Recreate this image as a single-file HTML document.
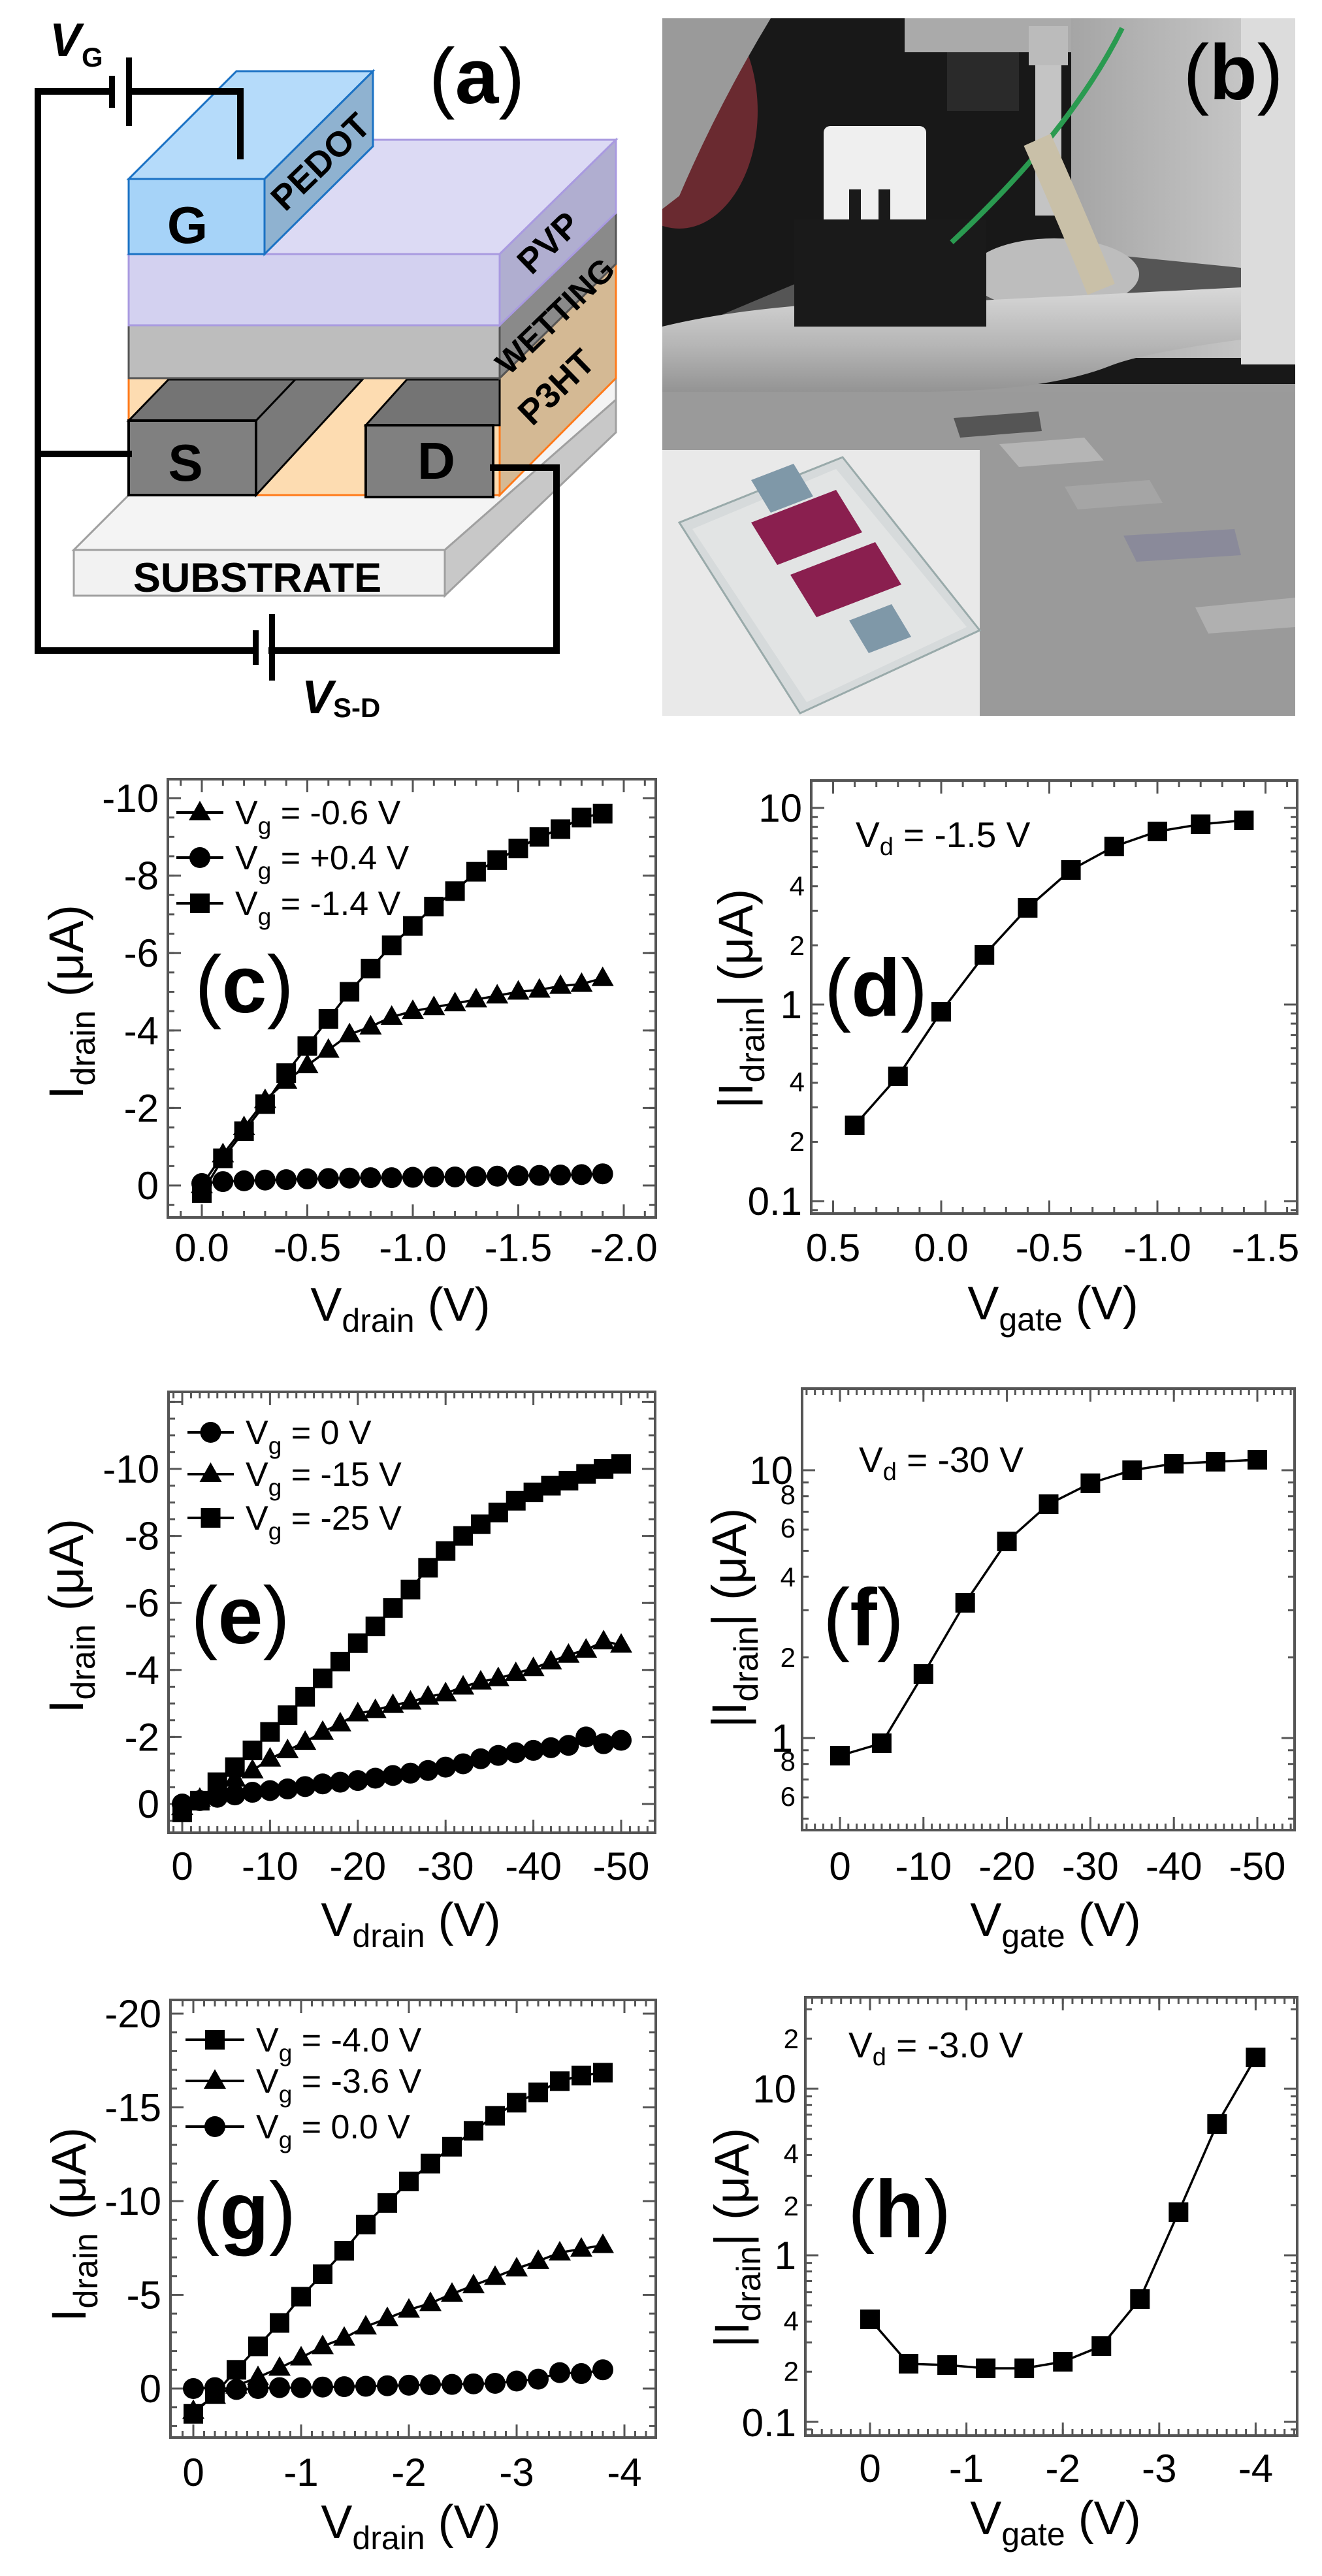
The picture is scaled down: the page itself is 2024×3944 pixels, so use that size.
<!DOCTYPE html>
<html><head><meta charset="utf-8"><style>
html,body{margin:0;padding:0;background:#fff}
svg{display:block}
text{font-family:"Liberation Sans",Arial,sans-serif}
</style></head><body>
<svg id="s" xmlns="http://www.w3.org/2000/svg" width="2024" height="3944" viewBox="0 0 2024 3944">
<rect width="2024" height="3944" fill="#fff"/>
<!-- Panel (a) -->
<g id="pa">
  <!-- substrate -->
  <polygon points="113,842 681,842 943,612 943,560 197,560 197,758" fill="#f4f4f4" stroke="#a0a0a0" stroke-width="3"/>
  <polygon points="681,842 943,612 943,662 681,912" fill="#c8c8c8" stroke="#a0a0a0" stroke-width="3"/>
  <rect x="113" y="842" width="568" height="70" fill="#f2f2f2" stroke="#a0a0a0" stroke-width="3"/>
  <!-- P3HT -->
  <rect x="197" y="579" width="568" height="179" fill="#fddcb1" stroke="#ff7a1a" stroke-width="3"/>
  <polygon points="765,579 943,404 943,579 765,758" fill="#d4b994" stroke="#ff7a1a" stroke-width="3"/>
  <!-- S electrode -->
  <polygon points="392,644 452,581 555,581 392,758" fill="#7a7a7a" stroke="#000" stroke-width="3"/>
  <polygon points="197,644 392,644 452,581 258,581" fill="#747474" stroke="#000" stroke-width="3"/>
  <rect x="197" y="644" width="195" height="114" fill="#808080" stroke="#000" stroke-width="4"/>
  <!-- D electrode -->
  <polygon points="560,651 623,581 765,581 765,651" fill="#747474" stroke="#000" stroke-width="3"/>
  <rect x="560" y="651" width="195" height="110" fill="#808080" stroke="#000" stroke-width="4"/>
  <!-- wetting -->
  <rect x="197" y="498" width="568" height="81" fill="#bdbdbd" stroke="#555" stroke-width="3"/>
  <polygon points="765,498 943,326 943,404 765,579" fill="#8a8a8a" stroke="#555" stroke-width="3"/>
  <!-- PVP -->
  <polygon points="197,389 765,389 943,214 375,214" fill="#dcdaf4" stroke="#a99ae0" stroke-width="3"/>
  <rect x="197" y="389" width="568" height="109" fill="#d3d1f0" stroke="#a99ae0" stroke-width="3"/>
  <polygon points="765,389 943,214 943,326 765,498" fill="#b0aed0" stroke="#a99ae0" stroke-width="3"/>
  <!-- G -->
  <polygon points="197,274 405,274 571,109 362,109" fill="#b5dbfa" stroke="#1b72c4" stroke-width="3"/>
  <polygon points="405,274 571,109 571,224 405,389" fill="#8fb2d0" stroke="#1b72c4" stroke-width="3"/>
  <rect x="197" y="274" width="208" height="115" fill="#a6d3f8" stroke="#1b72c4" stroke-width="3"/>
  <!-- labels -->
  <text x="287" y="372" font-size="80" font-weight="bold" text-anchor="middle">G</text>
  <text x="284" y="736" font-size="80" font-weight="bold" text-anchor="middle">S</text>
  <text x="668" y="733" font-size="80" font-weight="bold" text-anchor="middle">D</text>
  <text x="394" y="906" font-size="63" font-weight="bold" text-anchor="middle">SUBSTRATE</text>
  <text transform="translate(491,248) rotate(-44)" font-size="54" font-weight="bold" text-anchor="middle" dy="18">PEDOT</text>
  <text transform="translate(840,372) rotate(-44)" font-size="54" font-weight="bold" text-anchor="middle" dy="18">PVP</text>
  <text transform="translate(850,484) rotate(-44)" font-size="50" font-weight="bold" text-anchor="middle" dy="17">WETTING</text>
  <text transform="translate(852,593) rotate(-44)" font-size="54" font-weight="bold" text-anchor="middle" dy="18">P3HT</text>
  <!-- circuit -->
  <g stroke="#000" stroke-width="10" fill="none" stroke-linecap="square">
    <path d="M58,140 V996 H391"/>
    <path d="M58,695 H197"/>
    <path d="M58,140 H171"/>
    <path d="M201,140 H368 V239"/>
    <path d="M416,996 H852 V716 H755"/>
  </g>
  <rect x="167" y="116" width="9" height="49" fill="#000"/>
  <rect x="193" y="88" width="9" height="105" fill="#000"/>
  <rect x="387" y="965" width="9" height="53" fill="#000"/>
  <rect x="412" y="940" width="9" height="102" fill="#000"/>
  <text x="76" y="86" font-size="72" font-weight="bold" font-style="italic">V</text>
  <text x="125" y="102" font-size="42" font-weight="bold">G</text>
  <text x="462" y="1092" font-size="72" font-weight="bold" font-style="italic">V</text>
  <text x="510" y="1098" font-size="42" font-weight="bold">S-D</text>
  <text x="730" y="158" font-size="120" text-anchor="middle">(<tspan font-weight="bold">a</tspan>)</text>
</g>
<!-- Panel (b) photo -->
<defs>
  <clipPath id="pc"><rect x="1014" y="28" width="969" height="1068"/></clipPath>
  <linearGradient id="ring" x1="0" y1="0" x2="0" y2="1"><stop offset="0" stop-color="#d8d8d8"/><stop offset="0.5" stop-color="#b5b5b5"/><stop offset="1" stop-color="#8a8a8a"/></linearGradient>
  <linearGradient id="plate" x1="0" y1="0" x2="0" y2="1"><stop offset="0" stop-color="#8c8c8c"/><stop offset="1" stop-color="#a8a8a8"/></linearGradient>
  <linearGradient id="panel" x1="0" y1="0" x2="1" y2="0"><stop offset="0" stop-color="#a5a5a5"/><stop offset="1" stop-color="#cfcfcf"/></linearGradient>
</defs>
<g clip-path="url(#pc)">
  <rect x="1014" y="28" width="969" height="1068" fill="url(#plate)"/>
  <rect x="1014" y="28" width="969" height="560" fill="#181818"/>
  <ellipse cx="1040" cy="170" rx="120" ry="180" fill="#6a2a30"/>
  <path d="M1014,28 H1180 Q1100,160 1040,300 L1014,320 Z" fill="#9a9a9a"/>
  <rect x="1385" y="28" width="270" height="52" fill="#aaa"/>
  <rect x="1450" y="80" width="110" height="90" fill="#2a2a2a"/>
  <rect x="1575" y="40" width="60" height="60" fill="#bbb"/>
  <rect x="1585" y="100" width="40" height="230" fill="#c4c4c4"/>
  <rect x="1640" y="28" width="343" height="520" fill="url(#panel)"/>
  <rect x="1900" y="28" width="83" height="530" fill="#dcdcdc"/>
  <polygon points="1014,520 1300,400 1700,390 1900,410 1900,470 1014,560" fill="#555"/>
  <ellipse cx="1614" cy="420" rx="130" ry="55" fill="#bdbdbd"/>
  <path d="M1014,500 Q1200,455 1500,460 L1900,440 L1900,520 Q1750,540 1700,560 Q1600,600 1400,600 Q1200,605 1014,620 Z" fill="url(#ring)"/>
  <rect x="1261" y="193" width="157" height="210" rx="10" fill="#efefef"/>
  <rect x="1216" y="336" width="294" height="164" fill="#1a1a1a"/>
  <rect x="1300" y="290" width="18" height="120" fill="#1a1a1a"/>
  <rect x="1345" y="290" width="18" height="120" fill="#1a1a1a"/>
  <path d="M1718,43 Q1640,200 1457,371" stroke="#2a9a50" stroke-width="8" fill="none"/>
  <path d="M1588,214 Q1640,330 1686,443" stroke="#c9c0a8" stroke-width="45" fill="none"/>
  <rect x="1014" y="600" width="969" height="496" fill="#9a9a9a"/>
  <polygon points="1460,640 1590,630 1595,660 1470,670" fill="#555"/>
  <polygon points="1530,680 1660,670 1690,705 1560,715" fill="#b5b5b5"/>
  <polygon points="1630,745 1760,735 1780,770 1650,780" fill="#a5a5a5"/>
  <polygon points="1720,820 1890,810 1900,850 1740,860" fill="#8a8a9a"/>
  <polygon points="1830,930 1983,915 1983,960 1850,970" fill="#b0b0b0"/>
  <rect x="1014" y="689" width="486" height="407" fill="#e9e9e9"/>
  <polygon points="1040,800 1290,700 1500,965 1225,1092" fill="#d6dadb" stroke="#9aa" stroke-width="3"/>
  <polygon points="1060,810 1280,718 1480,960 1235,1075" fill="#e2e4e4"/>
  <polygon points="1150,735 1215,710 1245,760 1180,785" fill="#7f98a8"/>
  <polygon points="1150,800 1280,750 1320,815 1190,865" fill="#8a1f4f"/>
  <polygon points="1210,880 1340,830 1380,895 1250,945" fill="#8a1f4f"/>
  <polygon points="1300,950 1365,925 1395,975 1330,1000" fill="#7f98a8"/>
</g>
<text x="1888" y="152" font-size="120" text-anchor="middle">(<tspan font-weight="bold">b</tspan>)</text>
<g id="plots"></g>
</svg>
<script>
const NS='http://www.w3.org/2000/svg';
const G=document.getElementById('plots');
function el(tag,a,p){const e=document.createElementNS(NS,tag);for(const k in a)e.setAttribute(k,a[k]);(p||G).appendChild(e);return e;}
function txt(x,y,s,size,anchor,extra){const t=el('text',Object.assign({x:x,y:y,'font-size':size,'text-anchor':anchor||'middle'},extra||{}));t.textContent=s;return t;}
function frame(c){
  const {x0,y0,x1,y1}=c;
  const tk=(x1a,y1a,x2a,y2a)=>el('line',{x1:x1a,y1:y1a,x2:x2a,y2:y2a,stroke:'#555','stroke-width':3});
  (c.xmin||[]).forEach(p=>{if(p>x0+2&&p<x1-2){tk(p,y1,p,y1-10);tk(p,y0,p,y0+10);}});
  (c.xmaj||[]).forEach(p=>{if(p>x0+2&&p<x1-2){tk(p,y1,p,y1-20);tk(p,y0,p,y0+20);}});
  (c.ymin||[]).forEach(p=>{if(p>y0+2&&p<y1-2){tk(x0,p,x0+10,p);tk(x1,p,x1-10,p);}});
  (c.ymaj||[]).forEach(p=>{if(p>y0+2&&p<y1-2){tk(x0,p,x0+20,p);tk(x1,p,x1-20,p);}});
  el('rect',{x:x0,y:y0,width:x1-x0,height:y1-y0,fill:'none',stroke:'#555','stroke-width':4});
  (c.xlab||[]).forEach(([p,s])=>txt(p,c.xly+21,s,60));
  (c.ylab||[]).forEach(([p,s,sz])=>txt(x0-(sz?10:14),p+(sz?14:21),s,sz||60,'end'));
}
function title(x,y,main,sub,tail){
  const t=el('text',{x:x,y:y,'font-size':72,'text-anchor':'middle'});
  t.appendChild(document.createTextNode(main));
  const s=el('tspan',{'font-size':50,dy:17},t);s.textContent=sub;
  const r=el('tspan',{dy:-17},t);r.textContent=tail;
}
function ytitle(x,y,main,sub,tail){
  const t=el('text',{transform:`translate(${x},${y}) rotate(-90)`,x:0,y:24,'font-size':74,'text-anchor':'middle'});
  t.appendChild(document.createTextNode(main));
  const s=el('tspan',{'font-size':52,dy:18},t);s.textContent=sub;
  const r=el('tspan',{dy:-18},t);r.textContent=tail;
}
function plab(x,y,l){const t=el('text',{x:x,y:y+42,'font-size':124,'text-anchor':'middle'});t.appendChild(document.createTextNode('('));const b=el('tspan',{'font-weight':'bold'},t);b.textContent=l;t.appendChild(document.createTextNode(')'));}
function marker(type,x,y){
  if(type==='s')el('rect',{x:x-15,y:y-15,width:30,height:30,fill:'#000'});
  else if(type==='c')el('circle',{cx:x,cy:y,r:16,fill:'#000'});
  else el('polygon',{points:`${x},${y-18} ${x+17},${y+12} ${x-17},${y+12}`,fill:'#000'});
}
function series(pts,type){
  el('polyline',{points:pts.map(p=>p.join(',')).join(' '),fill:'none',stroke:'#000','stroke-width':3.5});
  pts.forEach(p=>marker(type,p[0],p[1]));
}
function legend(x0,x1,y,type,label,tail){
  el('line',{x1:x0,y1:y,x2:x1,y2:y,stroke:'#000','stroke-width':4});
  marker(type,(x0+x1)/2,y);
  const t=el('text',{x:x1+18,y:y+18,'font-size':52,'text-anchor':'start'});
  t.appendChild(document.createTextNode('V'));
  const s=el('tspan',{'font-size':37,dy:15},t);s.textContent='g';
  const r=el('tspan',{dy:-15},t);r.textContent=tail;
}
function vd(x,y,tail){
  const t=el('text',{x:x,y:y,'font-size':55,'text-anchor':'start'});
  t.appendChild(document.createTextNode('V'));
  const s=el('tspan',{'font-size':38,dy:12},t);s.textContent='d';
  const r=el('tspan',{dy:-12},t);r.textContent=tail;
}
function range(a,b,st){const r=[];for(let v=a;v<=b+1e-9;v+=st)r.push(+v.toFixed(6));return r;}
function logticks(y10,dec,y0,y1){const mj=[],mn=[];for(let e=-3;e<=3;e++){const b=Math.pow(10,e);mj.push(y10-(e-1)*dec);for(let k=2;k<=9;k++)mn.push(y10-(Math.log10(k*b)-1)*dec);}return{mj,mn};}

// (c)
(function(){
 const X=v=>309+v*323, Y=u=>1815-u*59.3;
 frame({x0:257,y0:1193,x1:1004,y1:1864,xmaj:range(0,2,0.5).map(X),xmin:range(-0.1,2.1,0.1).map(X),
   ymaj:range(0,10,2).map(Y),ymin:range(-0.5,10.5,0.5).map(Y),xly:1910,
   xlab:[[X(0),'0.0'],[X(.5),'-0.5'],[X(1),'-1.0'],[X(1.5),'-1.5'],[X(2),'-2.0']],
   ylab:[0,2,4,6,8,10].map(u=>[Y(u),u?'-'+u:'0'])});
 const sq=[-0.2,0.7,1.4,2.1,2.9,3.6,4.3,5.0,5.6,6.2,6.7,7.2,7.6,8.1,8.4,8.7,9.0,9.2,9.5,9.6];
 const tr=[0,0.8,1.5,2.2,2.7,3.1,3.5,3.9,4.1,4.35,4.5,4.6,4.7,4.8,4.9,5.0,5.05,5.15,5.2,5.35];
 const ci=[0.05,0.1,0.12,0.14,0.15,0.17,0.18,0.19,0.2,0.2,0.21,0.22,0.22,0.23,0.24,0.25,0.26,0.27,0.28,0.3];
 series(ci.map((u,i)=>[X(i*0.1),Y(u)]),'c');
 series(tr.map((u,i)=>[X(i*0.1),Y(u)]),'t');
 series(sq.map((u,i)=>[X(i*0.1),Y(u)]),'s');
 legend(270,342,1244,'t',0,' = -0.6 V');
 legend(270,342,1313,'c',0,' = +0.4 V');
 legend(270,342,1383,'s',0,' = -1.4 V');
 plab(374,1508,'c');
 title(613,2022,'V','drain',' (V)');
 ytitle(103,1534,'I','drain',' (μA)');
})();
// (d)
(function(){
 const X=v=>1441+v*331, y10=1237, dec=301;
 const lt=logticks(y10,dec);
 frame({x0:1242,y0:1195,x1:1986,y1:1858,xmaj:range(-0.5,1.5,0.5).map(X),xmin:range(-0.6,1.6,0.1).map(X),
   ymaj:lt.mj,ymin:lt.mn,xly:1910,
   xlab:[[X(-.5),'0.5'],[X(0),'0.0'],[X(.5),'-0.5'],[X(1),'-1.0'],[X(1.5),'-1.5']],
   ylab:[[1237,'10'],[1357,'4',42],[1448,'2',42],[1538,'1'],[1657,'4',42],[1748,'2',42],[1839,'0.1']]});
 const ys=[1723,1648,1549,1462,1390,1332,1296,1273,1262,1256];
 series(ys.map((y,i)=>[X(-0.4+i*0.2),y]),'s');
 vd(1310,1297,' = -1.5 V');
 plab(1341,1513,'d');
 title(1612,2020,'V','gate',' (V)');
 ytitle(1128,1529,'|I','drain','|  (μA)');
})();
// (e)
(function(){
 const X=v=>279+v*13.44, Y=u=>2762-u*51.3;
 frame({x0:258,y0:2131,x1:1003,y1:2806,xmaj:range(0,50,10).map(X),xmin:range(-1,53,1).map(X),
   ymaj:range(0,12,2).map(Y),ymin:range(-0.5,12,0.5).map(Y),xly:2857,
   xlab:[0,10,20,30,40,50].map(v=>[X(v),v?'-'+v:'0']),
   ylab:[0,2,4,6,8,10].map(u=>[Y(u),u?'-'+u:'0'])});
 const sq=[-0.25,0.1,0.65,1.1,1.6,2.15,2.65,3.2,3.75,4.25,4.8,5.3,5.85,6.4,7.05,7.55,8.0,8.35,8.7,9.05,9.3,9.5,9.65,9.85,10.0,10.15];
 const tr=[-0.1,0.15,0.45,0.75,1.0,1.35,1.6,1.85,2.15,2.4,2.7,2.8,2.95,3.05,3.2,3.3,3.5,3.65,3.75,3.9,4.05,4.25,4.45,4.6,4.85,4.75];
 const ci=[0,0.1,0.2,0.27,0.35,0.4,0.45,0.52,0.6,0.65,0.7,0.77,0.85,0.92,1.0,1.1,1.2,1.35,1.45,1.53,1.6,1.68,1.75,2.0,1.8,1.9];
 series(ci.map((u,i)=>[X(i*2),Y(u)]),'c');
 series(tr.map((u,i)=>[X(i*2),Y(u)]),'t');
 series(sq.map((u,i)=>[X(i*2),Y(u)]),'s');
 legend(287,358,2193,'c',0,' = 0 V');
 legend(287,358,2257,'t',0,' = -15 V');
 legend(287,358,2324,'s',0,' = -25 V');
 plab(368,2474,'e');
 title(629,2964,'V','drain',' (V)');
 ytitle(103,2474,'I','drain',' (μA)');
})();
// (f)
(function(){
 const X=v=>1286+v*12.78, y10=2251, dec=410;
 const lt=logticks(y10,dec);
 frame({x0:1228,y0:2126,x1:1982,y1:2802,xmaj:range(0,50,10).map(X),xmin:range(-4,55,1).map(X),
   ymaj:lt.mj,ymin:lt.mn,xly:2857,
   xlab:[0,10,20,30,40,50].map(v=>[X(v),v?'-'+v:'0']),
   ylab:[[2251,'10'],[2289,'8',42],[2340,'6',42],[2415,'4',42],[2538,'2',42],[2661,'1'],[2697,'8',42],[2751,'6',42]]});
 const ys=[2688,2669,2563,2454,2360,2303,2271,2251,2241,2238,2235];
 series(ys.map((y,i)=>[X(i*5),y]),'s');
 vd(1315,2254,' = -30 V');
 plab(1322,2477,'f');
 title(1616,2964,'V','gate',' (V)');
 ytitle(1118,2477,'|I','drain','|  (μA)');
})();
// (g)
(function(){
 const X=v=>296+v*165, Y=u=>3657-u*28.7;
 frame({x0:261,y0:3062,x1:1004,y1:3732,xmaj:range(0,4,1).map(X),xmin:range(-0.2,4.3,0.1).map(X),
   ymaj:range(0,20,5).map(Y),ymin:range(-2,20,1).map(Y),xly:3785,
   xlab:[0,1,2,3,4].map(v=>[X(v),v?'-'+v:'0']),
   ylab:[0,5,10,15,20].map(u=>[Y(u),u?'-'+u:'0'])});
 const sq=[-1.35,-0.3,1.0,2.25,3.5,4.9,6.1,7.35,8.75,9.9,11.05,12.0,12.9,13.75,14.55,15.25,15.8,16.4,16.7,16.85];
 const tr=[-1.2,-0.4,0.15,0.6,1.1,1.65,2.25,2.7,3.3,3.75,4.2,4.55,5.05,5.5,5.95,6.4,6.8,7.25,7.45,7.65];
 const ci=[0,0.05,-0.05,0,0.05,0.05,0.08,0.1,0.12,0.15,0.18,0.2,0.22,0.25,0.28,0.4,0.5,0.85,0.8,1.0];
 series(ci.map((u,i)=>[X(i*0.2),Y(u)]),'c');
 series(tr.map((u,i)=>[X(i*0.2),Y(u)]),'t');
 series(sq.map((u,i)=>[X(i*0.2),Y(u)]),'s');
 legend(284,374,3123,'s',0,' = -4.0 V');
 legend(284,374,3186,'t',0,' = -3.6 V');
 legend(284,374,3256,'c',0,' =  0.0 V');
 plab(374,3386,'g');
 title(629,3886,'V','drain',' (V)');
 ytitle(107,3406,'I','drain',' (μA)');
})();
// (h)
(function(){
 const X=v=>1332+v*147.6, y10=3198, dec=255;
 const lt=logticks(y10,dec);
 frame({x0:1233,y0:3058,x1:1986,y1:3729,xmaj:range(0,4,1).map(X),xmin:range(-0.6,4.4,0.1).map(X),
   ymaj:lt.mj,ymin:lt.mn,xly:3779,
   xlab:[0,1,2,3,4].map(v=>[X(v),v?'-'+v:'0']),
   ylab:[[3122,'2',42],[3198,'10'],[3298,'4',42],[3378,'2',42],[3453,'1'],[3554,'4',42],[3631,'2',42],[3709,'0.1']]});
 const ys=[3551,3619,3621,3626,3626,3616,3592,3520,3387,3252,3150];
 series(ys.map((y,i)=>[X(i*0.4),y]),'s');
 vd(1299,3150,' = -3.0 V');
 plab(1377,3383,'h');
 title(1616,3880,'V','gate',' (V)');
 ytitle(1122,3426,'|I','drain','|  (μA)');
})();
</script>
</body></html>
